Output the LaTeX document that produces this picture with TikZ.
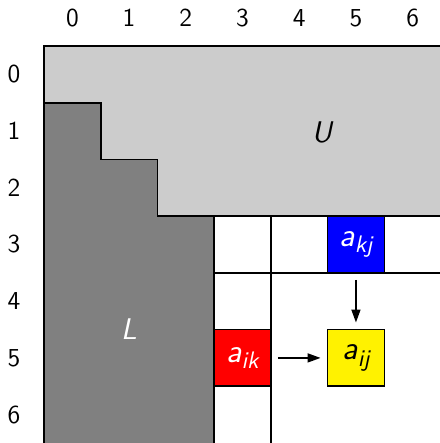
\documentclass[tikz,border=0pt]{standalone}
\usetikzlibrary{arrows.meta}
\definecolor{lgray}{HTML}{CCCCCC}
\definecolor{dgray}{HTML}{808080}
\newcommand{\elemlab}[2]{\fontsize{17}{19}\selectfont\sffamily\itshape #1\raisebox{-0.45ex}{\fontsize{12}{13}\selectfont #2}}
\tikzset{
  gridline/.style={draw=black, line width=0.8pt},
  cellbox/.style={draw=black, line width=0.8pt, minimum size=1cm, inner sep=0pt, anchor=center},
  idx/.style={font=\sffamily\fontsize{13}{15}\selectfont, inner sep=0pt},
  biglab/.style={font=\sffamily\itshape\fontsize{15}{17}\selectfont, inner sep=0pt},
  flow/.style={line width=0.8pt, -{Triangle[length=6.5pt,width=4.5pt]}, shorten <=0.11cm, shorten >=0.11cm}
}
\begin{document}
\begin{tikzpicture}
\useasboundingbox (-0.776,0.811) rectangle (6.966,-7.0);
% U region
\fill[lgray] (0,0) rectangle (7,-3);
\draw[gridline] (0,-7) -- (0,0) -- (7.2,0);
\draw[gridline] (2,-3) -- (7.2,-3);
% L region
\draw[gridline, fill=dgray] (0,-7.2) -- (0,-1) -- (1,-1) -- (1,-2) -- (2,-2) -- (2,-3) -- (3,-3) -- (3,-7.2);
% white strips
\draw[gridline] (3,-4) -- (7.2,-4);
\draw[gridline] (4,-3) -- (4,-7.2);
\draw[gridline] (3,-3) -- (3,-7.2);
% cells
\node[cellbox, fill=blue, text=white] (akj) at (5.5,-3.5) {\elemlab{a}{kj}};
\node[cellbox, fill=red, text=white] (aik) at (3.5,-5.5) {\elemlab{a}{ik}};
\node[cellbox, fill=yellow, text=black] (aij) at (5.5,-5.5) {\elemlab{a}{ij}};
\draw[flow] (akj) -- (aij);
\draw[flow] (aik) -- (aij);
% region labels
\node[biglab, text=white] (Llab) at (1.5,-5.0) {L};
\node[biglab, text=black] (Ulab) at (4.9,-1.52) {U};
% indices
\foreach \i in {0,...,6} {
  \node[idx] (c\i) at (\i+0.5,0.49) {\i};
  \node[idx] (r\i) at (-0.53,-\i-0.5) {\i};
}
\end{tikzpicture}
\end{document}
